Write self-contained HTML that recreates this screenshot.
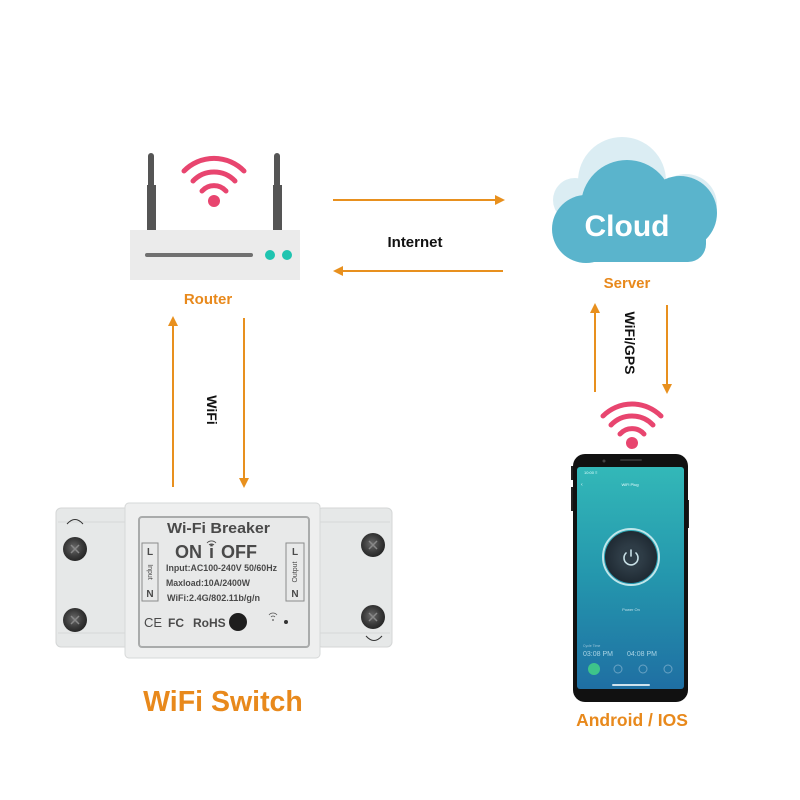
<!DOCTYPE html>
<html>
<head>
<meta charset="utf-8">
<style>
html,body{margin:0;padding:0;background:#fff;}
svg{display:block;}
text{font-family:"Liberation Sans",Arial,sans-serif;}
</style>
</head>
<body>
<svg width="800" height="800" viewBox="0 0 800 800" xmlns="http://www.w3.org/2000/svg">
<defs>
  <marker id="ah" markerWidth="10" markerHeight="10" refX="8" refY="5" orient="auto" markerUnits="userSpaceOnUse">
    <path d="M0,0 L10,5 L0,10 Z" fill="#e8901e"/>
  </marker>
  <linearGradient id="scr" x1="0" y1="0" x2="0" y2="1">
    <stop offset="0" stop-color="#33b8b8"/>
    <stop offset="0.5" stop-color="#2496ad"/>
    <stop offset="1" stop-color="#1f6fa3"/>
  </linearGradient>
  <radialGradient id="screw" cx="0.45" cy="0.45" r="0.6">
    <stop offset="0" stop-color="#6a6a6a"/>
    <stop offset="0.6" stop-color="#3a3a3a"/>
    <stop offset="1" stop-color="#222"/>
  </radialGradient>
  <radialGradient id="pwr" cx="0.5" cy="0.5" r="0.5">
    <stop offset="0" stop-color="#3a4a55"/>
    <stop offset="1" stop-color="#1f2a33"/>
  </radialGradient>
</defs>

<!-- ROUTER -->
<rect x="148" y="153" width="6" height="40" rx="3" fill="#555"/>
<rect x="147" y="185" width="9" height="46" fill="#555"/>
<rect x="274" y="153" width="6" height="40" rx="3" fill="#555"/>
<rect x="273" y="185" width="9" height="46" fill="#555"/>
<rect x="130" y="230" width="170" height="50" fill="#ebebeb"/>
<line x1="147" y1="255" x2="251" y2="255" stroke="#707070" stroke-width="4" stroke-linecap="round"/>
<circle cx="270" cy="255" r="5" fill="#1fc4b0"/>
<circle cx="287" cy="255" r="5" fill="#1fc4b0"/>
<g fill="none" stroke="#e8456f" stroke-width="5" stroke-linecap="round">
  <path d="M184,171 A42,42 0 0 1 244,171"/>
  <path d="M193,181 A29,29 0 0 1 235,181"/>
  <path d="M202,191 A16,16 0 0 1 226,191"/>
</g>
<circle cx="214" cy="201" r="6" fill="#e8456f"/>
<text x="208" y="304" font-size="15" font-weight="bold" fill="#e8891c" text-anchor="middle">Router</text>

<!-- CLOUD -->
<g fill="#dbedf3">
  <circle cx="622" cy="181" r="44"/>
  <circle cx="686" cy="205" r="31"/>
  <circle cx="575" cy="200" r="22"/>
</g>
<g fill="#5ab4cc">
  <circle cx="627" cy="206" r="46"/>
  <circle cx="586" cy="229" r="34"/>
  <circle cx="680" cy="213" r="37"/>
  <rect x="566" y="215" width="140" height="47" rx="18"/>
</g>
<text x="627" y="236" font-size="30" font-weight="bold" fill="#ffffff" text-anchor="middle">Cloud</text>
<text x="627" y="288" font-size="15" font-weight="bold" fill="#e8891c" text-anchor="middle">Server</text>

<!-- INTERNET ARROWS -->
<line x1="333" y1="200" x2="503" y2="200" stroke="#e8901e" stroke-width="2" marker-end="url(#ah)"/>
<line x1="503" y1="271" x2="335" y2="271" stroke="#e8901e" stroke-width="2" marker-end="url(#ah)"/>
<text x="415" y="247" font-size="15" font-weight="bold" fill="#111" text-anchor="middle">Internet</text>

<!-- WIFI ARROWS -->
<line x1="173" y1="487" x2="173" y2="318" stroke="#e8901e" stroke-width="2" marker-end="url(#ah)"/>
<line x1="244" y1="318" x2="244" y2="486" stroke="#e8901e" stroke-width="2" marker-end="url(#ah)"/>
<text x="212" y="410" font-size="14" font-weight="bold" fill="#111" text-anchor="middle" transform="rotate(90 212 410)" dy="5">WiFi</text>

<!-- WIFI/GPS ARROWS -->
<line x1="595" y1="392" x2="595" y2="305" stroke="#e8901e" stroke-width="2" marker-end="url(#ah)"/>
<line x1="667" y1="305" x2="667" y2="392" stroke="#e8901e" stroke-width="2" marker-end="url(#ah)"/>
<text x="630" y="343" font-size="14" font-weight="bold" fill="#111" text-anchor="middle" transform="rotate(90 630 343)" dy="5">WiFi/GPS</text>

<!-- phone wifi -->
<g fill="none" stroke="#e8456f" stroke-width="5" stroke-linecap="round">
  <path d="M603,416 A41,41 0 0 1 661,416"/>
  <path d="M611,425 A29,29 0 0 1 653,425"/>
  <path d="M620,434 A16,16 0 0 1 644,434"/>
</g>
<circle cx="632" cy="443" r="6" fill="#e8456f"/>

<!-- PHONE -->
<rect x="571" y="466" width="3" height="14" fill="#222"/>
<rect x="571" y="487" width="3" height="24" fill="#222"/>
<rect x="686" y="500" width="3" height="28" fill="#222"/>
<rect x="573" y="454" width="115" height="248" rx="12" fill="#111"/>
<rect x="577" y="467" width="107" height="222" rx="3" fill="url(#scr)"/>
<circle cx="604" cy="461" r="1.5" fill="#444"/>
<rect x="620" y="459" width="22" height="2" rx="1" fill="#333"/>
<text x="584" y="474" font-size="4" fill="#dff">10:00 ≡</text>
<text x="630" y="486" font-size="4" fill="#eff" text-anchor="middle">WiFi Plug</text>
<text x="581" y="486" font-size="5" fill="#eff">‹</text>
<circle cx="631" cy="557" r="28" fill="none" stroke="#bfe6ea" stroke-width="2"/>
<circle cx="631" cy="557" r="26" fill="url(#pwr)"/>
<circle cx="631" cy="557" r="12" fill="#2e3c46"/>
<path d="M626,553 A7,7 0 1 0 636,553" fill="none" stroke="#c8e0e6" stroke-width="1.6" stroke-linecap="round"/>
<line x1="631" y1="550" x2="631" y2="556" stroke="#c8e0e6" stroke-width="1.6" stroke-linecap="round"/>
<text x="631" y="611" font-size="4" fill="#bfe0ea" text-anchor="middle">Power On</text>
<text x="583" y="647" font-size="3.5" fill="#9cc6da">Cycle Time</text>
<text x="583" y="656" font-size="7" fill="#a9d3e4">03:08 PM</text>
<text x="627" y="656" font-size="7" fill="#a9d3e4">04:08 PM</text>
<circle cx="594" cy="669" r="6" fill="#3ec48a"/>
<circle cx="618" cy="669" r="4" fill="none" stroke="#6aa3c4" stroke-width="1"/>
<circle cx="643" cy="669" r="4" fill="none" stroke="#6aa3c4" stroke-width="1"/>
<circle cx="668" cy="669" r="4" fill="none" stroke="#6aa3c4" stroke-width="1"/>
<rect x="612" y="684" width="38" height="2" rx="1" fill="#cfe3ee"/>
<text x="632" y="726" font-size="17.5" font-weight="bold" fill="#e8891c" text-anchor="middle">Android / IOS</text>

<!-- WIFI SWITCH -->
<rect x="56" y="508" width="74" height="139" rx="5" fill="#e6e8e8" stroke="#d4d6d6" stroke-width="1"/>
<rect x="317" y="508" width="75" height="139" rx="5" fill="#e6e8e8" stroke="#d4d6d6" stroke-width="1"/>
<line x1="58" y1="522" x2="127" y2="522" stroke="#d6d8d8" stroke-width="1"/>
<line x1="320" y1="522" x2="390" y2="522" stroke="#d6d8d8" stroke-width="1"/>
<line x1="58" y1="633" x2="127" y2="633" stroke="#d6d8d8" stroke-width="1"/>
<line x1="320" y1="633" x2="390" y2="633" stroke="#d6d8d8" stroke-width="1"/>
<path d="M67,524 Q75,515 83,524" fill="none" stroke="#333" stroke-width="1"/>
<path d="M366,636 Q374,645 382,636" fill="none" stroke="#333" stroke-width="1"/>
<rect x="125" y="503" width="195" height="155" rx="4" fill="#eeefef" stroke="#d6d8d8" stroke-width="1"/>
<rect x="139" y="517" width="170" height="130" rx="3" fill="#e8e9e9" stroke="#a9abab" stroke-width="2"/>
<g>
  <circle cx="75" cy="549" r="12" fill="url(#screw)"/>
  <circle cx="75" cy="620" r="12" fill="url(#screw)"/>
  <circle cx="373" cy="545" r="12" fill="url(#screw)"/>
  <circle cx="373" cy="617" r="12" fill="url(#screw)"/>
  <g stroke="#888" stroke-width="1.5">
    <line x1="71" y1="545" x2="79" y2="553"/><line x1="79" y1="545" x2="71" y2="553"/>
    <line x1="71" y1="616" x2="79" y2="624"/><line x1="79" y1="616" x2="71" y2="624"/>
    <line x1="369" y1="541" x2="377" y2="549"/><line x1="377" y1="541" x2="369" y2="549"/>
    <line x1="369" y1="613" x2="377" y2="621"/><line x1="377" y1="613" x2="369" y2="621"/>
  </g>
</g>
<text x="167" y="533" font-size="15" font-weight="bold" fill="#4a4a4a" textLength="103" lengthAdjust="spacingAndGlyphs">Wi-Fi Breaker</text>
<text x="175" y="558" font-size="18" font-weight="bold" fill="#4a4a4a">ON</text>
<text x="209" y="558" font-size="18" font-weight="bold" fill="#4a4a4a">i</text>
<g fill="none" stroke="#4a4a4a" stroke-width="0.9">
  <path d="M207,543 A6,6 0 0 1 216,543"/>
  <path d="M209,545 A3.5,3.5 0 0 1 214,545"/>
</g>
<text x="221" y="558" font-size="18" font-weight="bold" fill="#4a4a4a">OFF</text>
<text x="166" y="571" font-size="9.5" font-weight="bold" fill="#4a4a4a" textLength="111" lengthAdjust="spacingAndGlyphs">Input:AC100-240V 50/60Hz</text>
<text x="166" y="586" font-size="9.5" font-weight="bold" fill="#4a4a4a" textLength="84" lengthAdjust="spacingAndGlyphs">Maxload:10A/2400W</text>
<text x="167" y="601" font-size="9.5" font-weight="bold" fill="#4a4a4a" textLength="93" lengthAdjust="spacingAndGlyphs">WiFi:2.4G/802.11b/g/n</text>
<rect x="142" y="543" width="16" height="58" fill="none" stroke="#8a8c8c" stroke-width="1"/>
<text x="150" y="555" font-size="10" font-weight="bold" fill="#4a4a4a" text-anchor="middle">L</text>
<text x="150" y="597" font-size="10" font-weight="bold" fill="#4a4a4a" text-anchor="middle">N</text>
<text x="150" y="572" font-size="7" fill="#4a4a4a" text-anchor="middle" transform="rotate(90 150 572)" dy="2">Input</text>
<rect x="286" y="543" width="18" height="58" fill="none" stroke="#8a8c8c" stroke-width="1"/>
<text x="295" y="555" font-size="10" font-weight="bold" fill="#4a4a4a" text-anchor="middle">L</text>
<text x="295" y="597" font-size="10" font-weight="bold" fill="#4a4a4a" text-anchor="middle">N</text>
<text x="295" y="572" font-size="7" fill="#4a4a4a" text-anchor="middle" transform="rotate(-90 295 572)" dy="2">Output</text>
<text x="144" y="627" font-size="13" fill="#4a4a4a">CE</text>
<text x="168" y="627" font-size="12" font-weight="bold" fill="#4a4a4a">FC</text>
<text x="193" y="627" font-size="12" font-weight="bold" fill="#4a4a4a">RoHS</text>
<circle cx="238" cy="622" r="9" fill="#1e1e1e"/>
<g fill="none" stroke="#555" stroke-width="0.8">
  <path d="M269,615 A5,5 0 0 1 277,615"/>
  <path d="M271,617 A2.5,2.5 0 0 1 275,617"/>
</g>
<circle cx="273" cy="620" r="0.9" fill="#555"/>
<circle cx="286" cy="622" r="2" fill="#333"/>

<text x="223" y="711" font-size="28.5" font-weight="bold" fill="#e8891c" text-anchor="middle">WiFi Switch</text>
</svg>
</body>
</html>
